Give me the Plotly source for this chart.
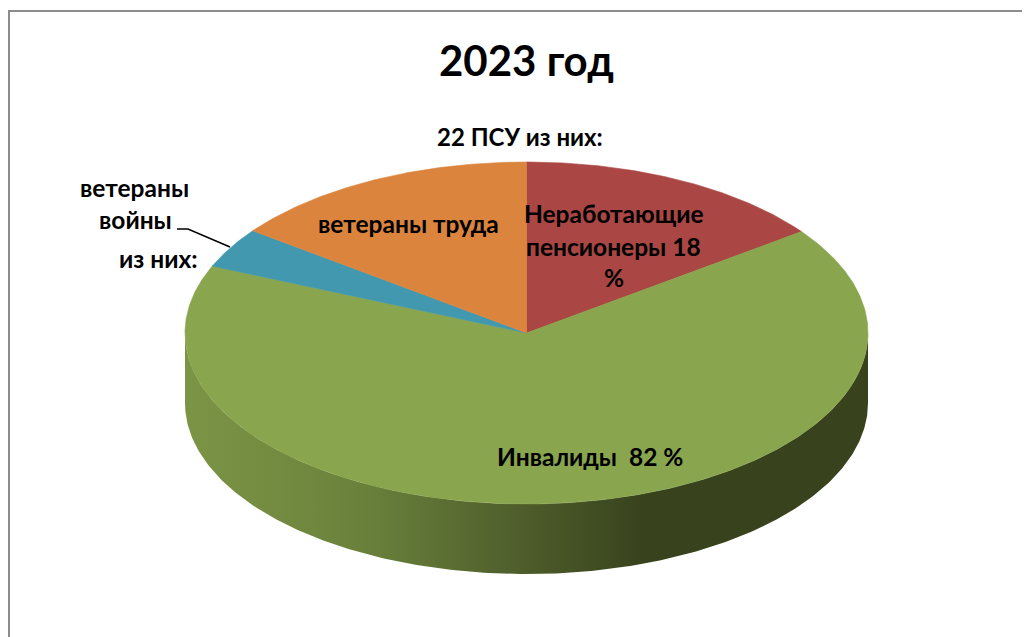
import numpy as np
import plotly.graph_objects as go

# Data (percent of the full circle, clockwise from 12 o'clock)
categories = ["Неработающие пенсионеры", "Инвалиды", "ветераны войны", "ветераны труда"]
values = [14.9, 66.5, 3.8, 14.8]
colors = ["#AA4643", "#89A54E", "#4198AF", "#DB843D"]

title_text = "2023 год"
subtitle_text = "22 ПСУ из них:"
label_lines = ["Неработающие", "пенсионеры 18", "%", "Инвалиды  82 %", "ветераны труда",
               "ветераны", "войны", "из них:"]

W, H = 1030, 637
PAGE_MARGIN = 8  # the page's own body margin; axes below are in window pixels
CX, CY, RX, RY, DEPTH = 526.5, 333, 341.5, 171, 70
FONT = "Lato"
TXT = "#000000"


def project(angle_deg, radius=1.0, drop=0.0):
    a = np.radians(angle_deg)
    return CX + RX * radius * np.sin(a), CY - RY * radius * np.cos(a) + drop


fig = go.Figure()

# side wall (front half of the disc)
t = np.linspace(90, 270, 240)
xb, yb = project(t, drop=DEPTH)
xt, yt = project(t[::-1])
fig.add_trace(go.Scatter(
    x=np.r_[xb, xt], y=np.r_[yb, yt], mode="lines", line=dict(width=0),
    fill="toself", hoverinfo="skip", showlegend=False,
    fillgradient=dict(type="horizontal", colorscale=[
        [0.0, "#7C9445"], [0.14, "#738B40"], [0.28, "#677F3A"],
        [0.48, "#505F2C"], [0.67, "#38431D"], [1.0, "#38431D"]]),
))

# top faces from the values
start = 0.0
for name, v, c in zip(categories, values, colors):
    sweep = v / sum(values) * 360
    a = np.linspace(start, start + sweep, max(int(sweep * 2), 8))
    x, y = project(a)
    fig.add_trace(go.Scatter(
        x=np.r_[CX, x, CX], y=np.r_[CY, y, CY], mode="lines", line=dict(width=0.6, color=c),
        fill="toself", fillcolor=c, name=name, hoverinfo="name", showlegend=False,
    ))
    start += sweep

positions = [(614, 213), (613, 246), (614, 277), (590, 456), (408.5, 223),
             (134.5, 187), (135, 219), (158, 258)]
annotations = [dict(x=x, y=y, text=f"<b>{s}</b>", showarrow=False, xanchor="center", yanchor="middle",
                    font=dict(family=FONT, size=24.5, color=TXT))
               for s, (x, y) in zip(label_lines, positions)]
annotations.append(dict(x=526, y=60, text=f"<b>{title_text}</b>", showarrow=False,
                        font=dict(family=FONT, size=42, color=TXT)))
annotations.append(dict(x=519.5, y=136, text=f"<b>{subtitle_text}</b>", showarrow=False,
                        font=dict(family=FONT, size=24, color=TXT)))

fig.update_layout(
    width=W - PAGE_MARGIN, height=H - PAGE_MARGIN, margin=dict(l=0, r=0, t=0, b=0),
    paper_bgcolor="white", plot_bgcolor="white",
    xaxis=dict(range=[PAGE_MARGIN, W], visible=False, fixedrange=True),
    yaxis=dict(range=[H, PAGE_MARGIN], visible=False, fixedrange=True),
    annotations=annotations,
    shapes=[
        dict(type="path", path="M 177 229 L 188 229 L 230 247", line=dict(color="#000000", width=1.5)),
        dict(type="path", path=f"M 9 {H} L 9 11 L {W} 11", line=dict(color="#8c8c8c", width=2)),
    ],
)
fig.write_html("out.html", config={"displayModeBar": False})
